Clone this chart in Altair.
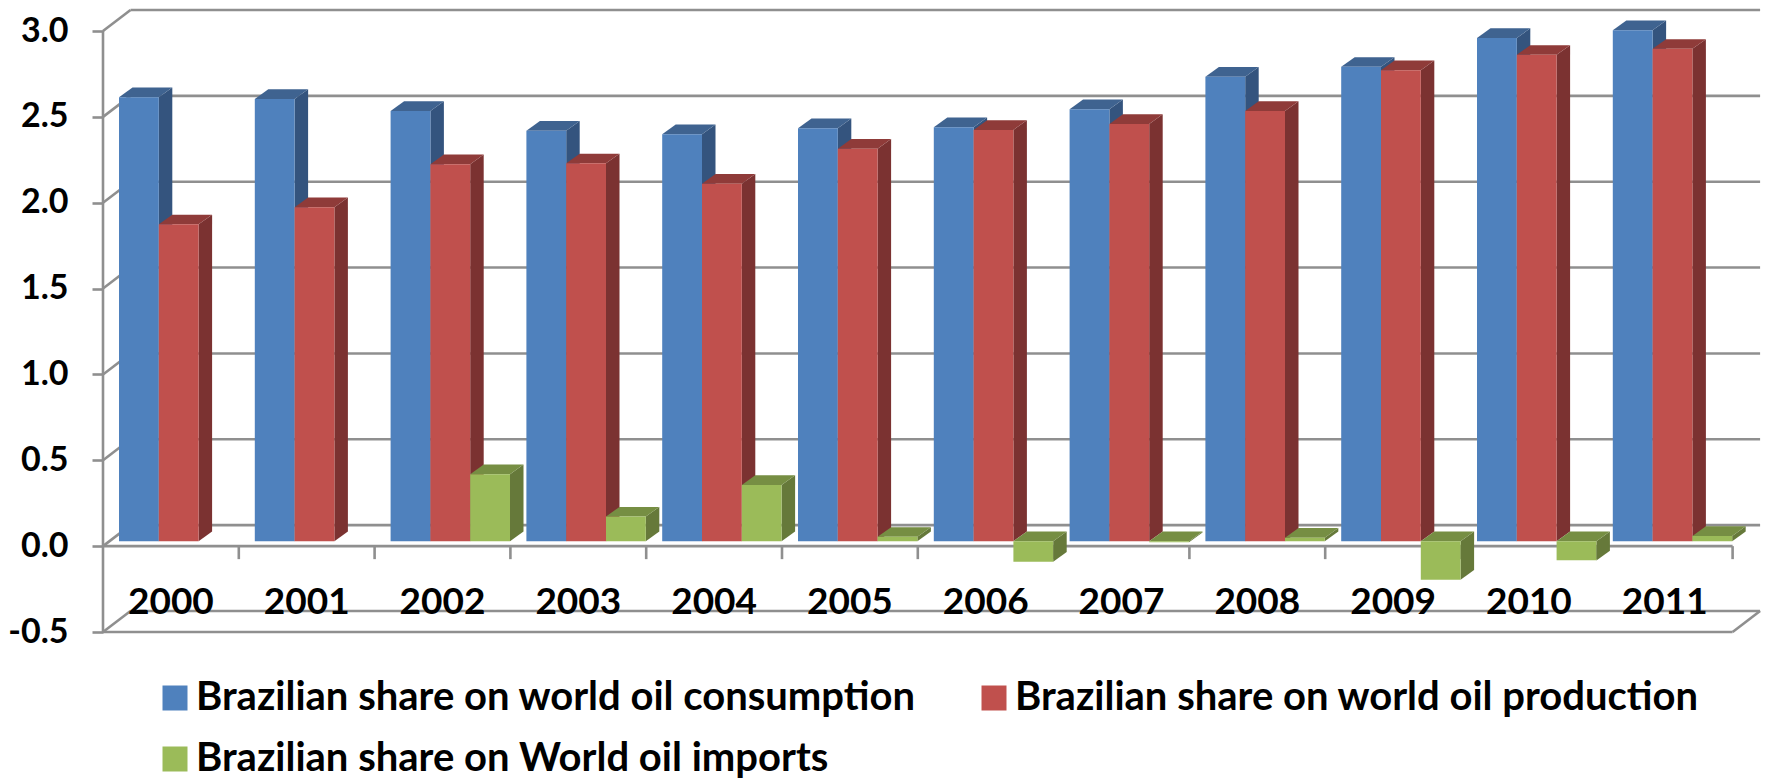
import altair as alt
import pandas as pd

YEARS = [2000, 2001, 2002, 2003, 2004, 2005, 2006, 2007, 2008, 2009, 2010, 2011]
CONSUMPTION = [2.585, 2.575, 2.505, 2.39, 2.37, 2.405, 2.41, 2.515, 2.705, 2.762, 2.93, 2.975]
PRODUCTION = [1.845, 1.945, 2.195, 2.2, 2.082, 2.285, 2.395, 2.43, 2.505, 2.742, 2.832, 2.867]
IMPORTS = [None, None, 0.39, 0.143, 0.327, 0.025, -0.12, -0.006, 0.02, -0.225, -0.112, 0.03]
Y_TICKS = [-0.5, 0.0, 0.5, 1.0, 1.5, 2.0, 2.5, 3.0]

SERIES = [
    ("Brazilian share on world oil consumption", CONSUMPTION, "#4f81bd", "#3f6390", "#34547e"),
    ("Brazilian share on world oil production", PRODUCTION, "#c0504d", "#8f3b39", "#7b3231"),
    ("Brazilian share on World oil imports", IMPORTS, "#9bbb59", "#768e43", "#66793a"),
]

# Scale factors of the pseudo-3D box (pixels per data unit) and its depth.
PX_X, PX_Y = 135.8, 171.7
PLOT_W, PLOT_H = 1659, 622
WALL_DX, WALL_DY = 27.5 / PX_X, 21 / PX_Y
BAR_DX, BAR_DY = 13.5 / PX_X, 9.7 / PX_Y
PLANE_DY = 5 / PX_Y
BAR_W = 39.8 / PX_X
BAR_START = 16 / PX_X
X_DOMAIN = [0, PLOT_W / PX_X]
Y_DOMAIN = [-0.5, 3 + WALL_DY]
GREY = "#8f8f8f"
LINE_W = 2.6

# Value axis: labels and outward ticks only, the frame draws the rest.
Y_AXIS = alt.Axis(
    values=Y_TICKS,
    labelExpr="(datum.value < 0 ? '-' : '') + format(abs(datum.value), '.1f')",
    title=None,
    grid=False,
    domain=False,
    tickColor=GREY,
    tickWidth=LINE_W,
    tickSize=11,
    labelPadding=24,
    labelFont="Lato",
    labelFontWeight="bold",
    labelFontSize=34,
    labelColor="#000000",
)


def xq(field):
    return alt.X(f"{field}:Q", scale=alt.Scale(domain=X_DOMAIN, nice=False, zero=False), axis=None)


def yq(field):
    return alt.Y(f"{field}:Q", scale=alt.Scale(domain=Y_DOMAIN, nice=False, zero=False), axis=Y_AXIS)


# Box frame: back wall, diagonals, floor edges and category ticks.
segments = []
for t in Y_TICKS:
    segments.append(dict(x=WALL_DX, x2=12 + WALL_DX, y=t + WALL_DY, y2=t + WALL_DY))
    segments.append(dict(x=0, x2=WALL_DX, y=t, y2=t + WALL_DY))
segments.append(dict(x=0, x2=0, y=-0.5, y2=3))
for level in (0.0, -0.5):
    segments.append(dict(x=0, x2=12, y=level, y2=level))
segments.append(dict(x=12, x2=12 + WALL_DX, y=-0.5, y2=-0.5 + WALL_DY))
for i in range(1, 13):
    segments.append(dict(x=i, x2=i, y=0, y2=-13 / PX_Y))
frame = (
    alt.Chart(pd.DataFrame(segments))
    .mark_rule(color=GREY, strokeWidth=LINE_W)
    .encode(x=xq("x"), x2="x2:Q", y=yq("y"), y2="y2:Q")
)

layers = [frame]
# The legend fills its columns top-down, so imports comes second to land on row two.
legend_order = [0, 2, 1]
names = [SERIES[i][0] for i in legend_order]
fronts = [SERIES[i][2] for i in legend_order]
for k, (name, values, front, top, side) in enumerate(SERIES):
    front_rows, side_rows, top_rows = [], [], []
    for i, (year, v) in enumerate(zip(YEARS, values)):
        if v is None:
            continue
        left = i + BAR_START + k * BAR_W
        right = left + BAR_W
        low = min(v, 0) + PLANE_DY
        high = max(v, 0) + PLANE_DY
        front_rows.append(dict(series=name, x=left, x2=right, y=low, y2=high))
        side_rows.append(dict(year=year, x=right, y=low, y2=high))
        side_rows.append(dict(year=year, x=right + BAR_DX, y=low + BAR_DY, y2=high + BAR_DY))
        top_rows.append(dict(year=year, x=left, x2=right, y=high))
        top_rows.append(dict(year=year, x=left + BAR_DX, x2=right + BAR_DX, y=high + BAR_DY))
    layers.append(
        alt.Chart(pd.DataFrame(side_rows))
        .mark_area(color=side)
        .encode(x=xq("x"), y=yq("y"), y2="y2:Q", detail="year:N")
    )
    layers.append(
        alt.Chart(pd.DataFrame(top_rows))
        .mark_area(color=top, orient="horizontal")
        .encode(x=xq("x"), x2="x2:Q", y=yq("y"), detail="year:N")
    )
    layers.append(
        alt.Chart(pd.DataFrame(front_rows))
        .mark_rect()
        .encode(
            x=xq("x"),
            x2="x2:Q",
            y=yq("y"),
            y2="y2:Q",
            color=alt.Color(
                "series:N",
                scale=alt.Scale(domain=names, range=fronts),
                legend=alt.Legend(
                    title=None,
                    orient="none",
                    legendX=52,
                    legendY=668,
                    columns=2,
                    columnPadding=58,
                    rowPadding=21,
                    symbolType="square",
                    symbolSize=625,
                    symbolStrokeWidth=0,
                    labelOffset=1,
                    labelFont="Lato",
                    labelFontWeight="bold",
                    labelFontSize=40,
                    labelColor="#000000",
                    labelLimit=900,
                ),
            ),
        )
    )

# Category labels sit inside the box floor.
year_labels = (
    alt.Chart(pd.DataFrame({"year": [str(y) for y in YEARS], "x": [i + 0.5 for i in range(12)], "y": [-0.33] * 12}))
    .mark_text(font="Lato", fontWeight="bold", fontSize=37, color="#000000", baseline="middle")
    .encode(x=xq("x"), y=yq("y"), text="year:N")
)
layers.append(year_labels)

chart = (
    alt.layer(*layers)
    .properties(
        width=PLOT_W,
        height=PLOT_H,
        padding={"left": 103, "top": 10, "right": 5, "bottom": 149},
        autosize=alt.AutoSizeParams(type="none"),
        background="#ffffff",
    )
    .configure_view(stroke=None)
)

chart.save("out.html", embed_options={"renderer": "svg", "actions": False})
